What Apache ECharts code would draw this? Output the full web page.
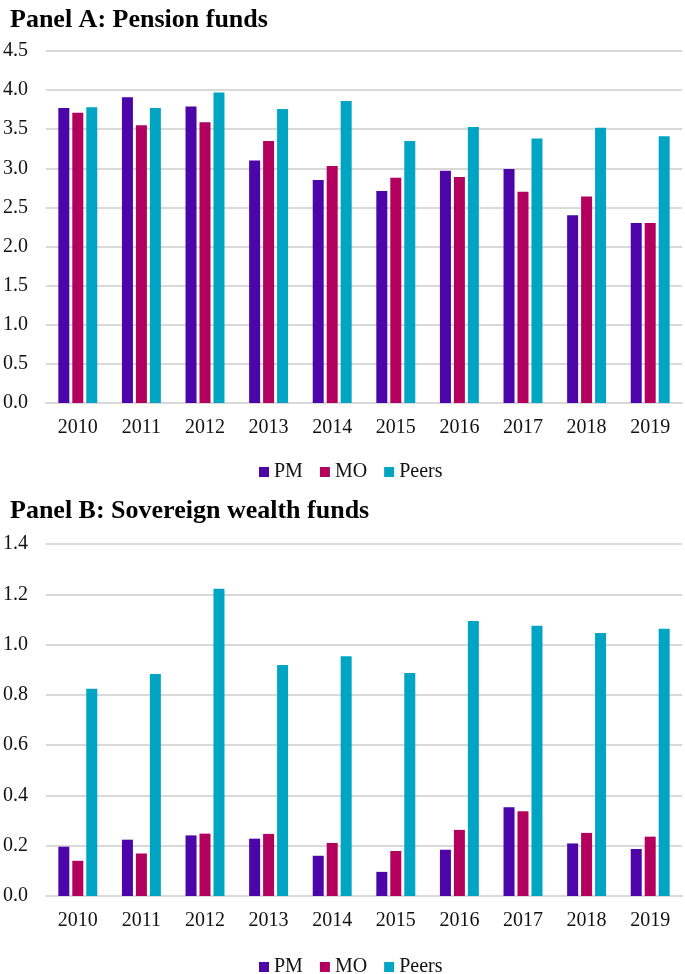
<!DOCTYPE html>
<html>
<head>
<meta charset="utf-8">
<script src="https://cdn.jsdelivr.net/npm/echarts@6/dist/echarts.min.js"></script>
<style>html,body{margin:0;padding:0;background:#fff}#c{width:685px;height:974px}</style>
</head>
<body>
<div id="c"></div>
<script>
const categories = ['2010','2011','2012','2013','2014','2015','2016','2017','2018','2019'];
const seriesNames = ['PM','MO','Peers'];
const pensionPM    = [3.77, 3.91, 3.79, 3.10, 2.85, 2.71, 2.97, 2.99, 2.40, 2.30];
const pensionMO    = [3.71, 3.55, 3.59, 3.35, 3.03, 2.88, 2.89, 2.70, 2.64, 2.30];
const pensionPeers = [3.78, 3.77, 3.97, 3.76, 3.86, 3.35, 3.53, 3.38, 3.52, 3.41];
const swfPM    = [0.196, 0.224, 0.241, 0.228, 0.160, 0.096, 0.184, 0.353, 0.209, 0.187];
const swfMO    = [0.140, 0.169, 0.248, 0.247, 0.211, 0.179, 0.263, 0.337, 0.251, 0.236];
const swfPeers = [0.824, 0.883, 1.222, 0.919, 0.954, 0.887, 1.094, 1.075, 1.046, 1.063];
const titleA = 'Panel A: Pension funds';
const titleB = 'Panel B: Sovereign wealth funds';

const colors = ['#4B05A8', '#B3005E', '#00A5C3'];
const serif = '"Liberation Serif", "DejaVu Serif", serif';
const gridColor = '#d9d9d9';

function xAxis(gridIndex) {
  return {
    type: 'category', gridIndex, data: categories,
    axisLine: {lineStyle: {color: gridColor, width: 2}},
    axisTick: {show: false},
    axisLabel: {color: '#111', fontFamily: serif, fontSize: 20, margin: 15}
  };
}
function yAxis(gridIndex, max, interval) {
  return {
    type: 'value', gridIndex, min: 0, max, interval,
    axisLine: {show: false}, axisTick: {show: false},
    splitLine: {lineStyle: {color: gridColor, width: 2}},
    axisLabel: {color: '#111', fontFamily: serif, fontSize: 20, margin: 18,
      formatter: v => v.toFixed(1)}
  };
}
function bars(name, data, idx, axisIdx) {
  return {
    type: 'bar', name, data, xAxisIndex: axisIdx, yAxisIndex: axisIdx,
    barWidth: 11, barGap: '27%',
    itemStyle: {color: colors[idx]}, animation: false
  };
}
function legend(top) {
  return {
    top, left: 254, data: seriesNames, icon: 'rect',
    itemWidth: 10, itemHeight: 10, itemGap: 17,
    textStyle: {fontFamily: serif, fontSize: 20, color: '#111'}
  };
}

const chart = echarts.init(document.getElementById('c'), null, {renderer: 'canvas'});
chart.setOption({
  animation: false,
  color: colors,
  title: [
    {text: titleA, left: 5, top: 2, textStyle: {fontFamily: serif, fontWeight: 'bold', fontSize: 26, color: '#000'}},
    {text: titleB, left: 5, top: 493, textStyle: {fontFamily: serif, fontWeight: 'bold', fontSize: 26, color: '#000'}}
  ],
  legend: [legend(457), legend(952)],
  grid: [
    {left: 43, right: 3, top: 51, height: 352},
    {left: 43, right: 3, top: 544, height: 352}
  ],
  xAxis: [xAxis(0), xAxis(1)],
  yAxis: [yAxis(0, 4.5, 0.5), yAxis(1, 1.4, 0.2)],
  series: [
    bars('PM', pensionPM, 0, 0),
    bars('MO', pensionMO, 1, 0),
    bars('Peers', pensionPeers, 2, 0),
    bars('PM', swfPM, 0, 1),
    bars('MO', swfMO, 1, 1),
    bars('Peers', swfPeers, 2, 1)
  ]
});
</script>
</body>
</html>
